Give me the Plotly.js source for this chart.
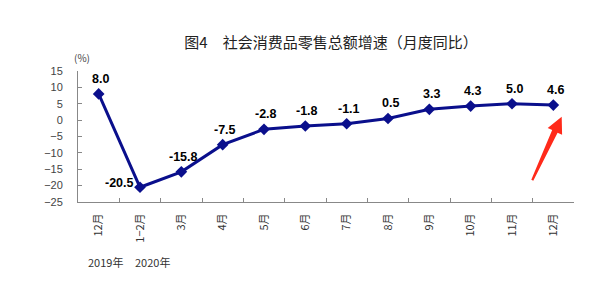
<!DOCTYPE html>
<html>
<head>
<meta charset="utf-8">
<script src="https://cdn.plot.ly/plotly-3.0.1.min.js"></script>
<style>html,body{margin:0;padding:0;background:#fff;}#chart{width:611px;height:291px;}</style>
</head>
<body>
<div id="chart"></div>
<script>
var months = ["12月", "1−2月", "3月", "4月", "5月", "6月", "7月", "8月", "9月", "10月", "11月", "12月"];
var growth = [8.0, -20.5, -15.8, -7.5, -2.8, -1.8, -1.1, 0.5, 3.3, 4.3, 5.0, 4.6];
var yTicks = [15, 10, 5, 0, -5, -10, -15, -20, -25];
var years = ["2019年", "2020年"];
var chartTitle = "图4　社会消费品零售总额增速（月度同比）";

var lineColor = "#0A0F8C";
var L = 78, R = 574, T = 71, B = 201.7, W = 611, H = 291;
function px(X){ return (X - L) / (R - L); }
function py(Y){ return (B - Y) / (B - T); }

var xs = months.map(function(m, i){ return i; });

var trace = {
  x: xs, y: growth, type: "scatter", mode: "lines+markers",
  line: {color: lineColor, width: 3},
  marker: {symbol: "diamond", size: 9, color: lineColor},
  hoverinfo: "skip", cliponaxis: false
};

var minIdx = growth.indexOf(Math.min.apply(null, growth));
var annotations = growth.map(function(v, i){
  var isMin = (i === minIdx);
  return {
    x: i, y: v, xref: "x", yref: "y", text: v.toFixed(1), showarrow: false,
    xanchor: "center", yanchor: "middle",
    xshift: isMin ? -21 : 2, yshift: isMin ? 4 : 15,
    font: {family: "Liberation Sans, Arial, sans-serif", size: 12.5, color: "#000", weight: "bold"}
  };
});
annotations.push({
  xref: "paper", yref: "paper", x: px(82), y: py(58), xanchor: "center", yanchor: "middle",
  text: "(%)", showarrow: false,
  font: {family: "Noto Sans CJK SC, sans-serif", size: 10, color: "#444"}
});
var yearX = [105, 152];
years.forEach(function(t, i){
  annotations.push({
    xref: "paper", yref: "paper", x: px(yearX[i]), y: py(262), xanchor: "center", yanchor: "middle",
    text: t, showarrow: false,
    font: {family: "Noto Sans CJK SC, sans-serif", size: 11, color: "#333"}
  });
});

// red decorative arrow (tapered polygon)
var arrowPts = [[531.3,179.6],[552.2,129.9],[547.7,127.8],[561.7,116.7],[562.1,134.6],[557.6,132.5],[533.3,180.5]];
var path = arrowPts.map(function(p, i){ return (i ? "L" : "M") + px(p[0]).toFixed(4) + "," + py(p[1]).toFixed(4); }).join(" ") + " Z";

var layout = {
  width: W, height: H,
  margin: {l: L, r: W - R, t: T, b: H - B},
  paper_bgcolor: "#fff", plot_bgcolor: "#fff",
  showlegend: false,
  title: {text: chartTitle, x: 331 / W, xanchor: "center", y: 1 - 42.5 / H, yanchor: "middle",
          font: {family: "Noto Sans CJK SC, sans-serif", size: 15, color: "#222"}},
  xaxis: {
    type: "linear", range: [-0.5, 11.5], tickmode: "array", tickvals: xs, ticktext: months,
    showgrid: false, zeroline: false, showline: true, linecolor: "#888", linewidth: 1,
    ticks: "", tickangle: -90, ticklabelstandoff: 6,
    tickfont: {family: "Noto Sans CJK SC, sans-serif", size: 11, color: "#333"}
  },
  xaxis2: {
    overlaying: "x", range: [-0.5, 11.5], tickmode: "array",
    tickvals: [-0.5,0.5,1.5,2.5,3.5,4.5,5.5,6.5,7.5,8.5,9.5,10.5,11.5],
    showticklabels: false, ticks: "inside", ticklen: 4, tickcolor: "#888", side: "bottom",
    showgrid: false, zeroline: false, showline: false, anchor: "y"
  },
  yaxis: {
    range: [-25, 15], tickmode: "array", tickvals: yTicks,
    showgrid: false, zeroline: false, showline: true, linecolor: "#888", linewidth: 1,
    ticks: "inside", ticklen: 4, tickcolor: "#888", ticklabelstandoff: 12,
    tickfont: {family: "Liberation Sans, Arial, sans-serif", size: 11, color: "#444"}
  },
  annotations: annotations,
  shapes: [{type: "path", xref: "paper", yref: "paper", path: path, fillcolor: "#FF2A1A", line: {width: 0}}]
};

var dummy = {x: [0], y: [null], xaxis: "x2", yaxis: "y", type: "scatter", mode: "markers", hoverinfo: "skip"};

Plotly.newPlot("chart", [dummy, trace], layout, {staticPlot: true, displayModeBar: false});
</script>
</body>
</html>
